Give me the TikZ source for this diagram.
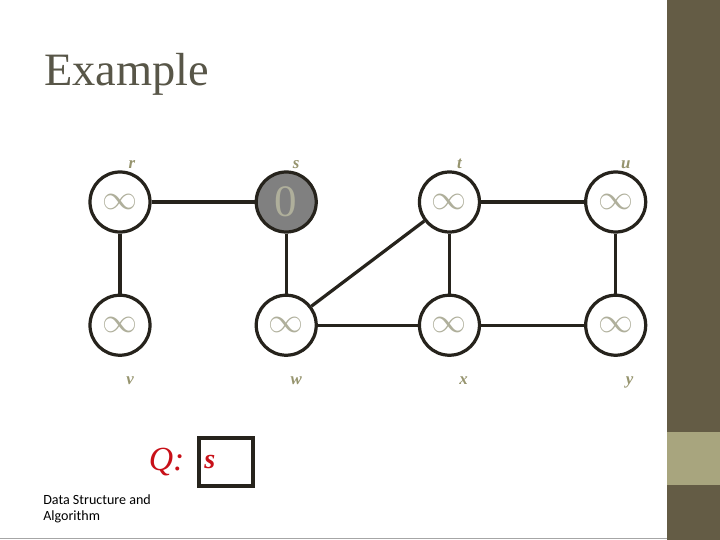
\documentclass[tikz,border=0pt]{standalone}
\usepackage{fontspec}
\setmainfont{Liberation Serif}
\newfontfamily\notefont{Carlito}
\usepackage{tikz}
\usetikzlibrary{positioning}
\definecolor{bandolive}{RGB}{100,92,69}
\definecolor{bandlight}{RGB}{168,165,126}
\definecolor{titlegray}{RGB}{88,86,72}
\definecolor{edgedark}{RGB}{38,35,28}
\definecolor{lblolive}{RGB}{150,148,110}
\definecolor{symgray}{RGB}{175,175,155}
\definecolor{qred}{RGB}{200,16,24}
\tikzset{
  vertex/.style={circle, minimum size=1.5cm, inner sep=0pt, draw=edgedark, fill=white, line width=2.3pt, text=symgray, font=\fontsize{27}{28}\selectfont},
  vertexS/.style={vertex, fill=black!50},
  lbl/.style={text=lblolive, font=\bfseries\itshape\fontsize{12}{13}\selectfont, inner sep=1pt},
  edge/.style={draw=edgedark, line width=2.3pt},
}
\begin{document}
\begin{tikzpicture}[node distance=2.55cm and 1.5cm]
\useasboundingbox (0,0) rectangle (18,13.5);
% slide background
\fill[white] (0,0) rectangle (18,13.5);
\fill[bandolive] (16.675,0) rectangle (18,13.5);
\fill[bandlight] (16.675,1.375) rectangle (18,2.7);
\draw[black!35, line width=0.8pt] (0,0.03) -- (16.675,0.03);
\node (title) [anchor=base west, text=titlegray, font=\fontsize{33}{36}\selectfont, inner sep=0pt] at (1.1,11.35) {Example};
% vertices
\node (r) [vertex, label={[lbl, xshift=0.3cm]above:r}] at (3.0,8.45) {$\infty$};
\node (s) [vertexS, right=2.575cm of r, label={[lbl, xshift=0.25cm]above:s}, font=\fontsize{32}{34}\selectfont] {0};
\node (t) [vertex, right=2.5cm of s, label={[lbl, xshift=0.25cm]above:t}] {$\infty$};
\node (u) [vertex, right=2.575cm of t, label={[lbl, xshift=0.25cm]above:u}] {$\infty$};
\node (v) [vertex, below=1.5cm of r, label={[lbl, xshift=0.25cm, yshift=-0.45cm]below:v}] {$\infty$};
\node (w) [vertex, below=1.5cm of s, label={[lbl, xshift=0.25cm, yshift=-0.45cm]below:w}] {$\infty$};
\node (x) [vertex, below=1.5cm of t, label={[lbl, xshift=0.35cm, yshift=-0.45cm]below:x}] {$\infty$};
\node (y) [vertex, below=1.5cm of u, label={[lbl, xshift=0.35cm, yshift=-0.45cm]below:y}] {$\infty$};
% edges
\draw[edge] (r) -- (s);
\draw[edge] (r) -- (v);
\draw[edge] (s) -- (w);
\draw[edge] (w) -- (t);
\draw[edge] (t) -- (u);
\draw[edge] (t) -- (x);
\draw[edge] (u) -- (y);
\draw[edge] (w) -- (x);
\draw[edge] (x) -- (y);
% queue
\node (queue) [draw=edgedark, line width=2.3pt, minimum width=1.35cm, minimum height=1.2cm, inner sep=0pt] at (5.65,1.95) {};
\node (qs) [anchor=west, text=qred, font=\bfseries\itshape\fontsize{20}{22}\selectfont] at ([xshift=0.05cm]queue.west) {s};
\node (qlabel) [left=0.2cm of queue, text=qred, font=\itshape\fontsize{24}{26}\selectfont] {Q:};
\node (note) [anchor=north west, align=left, font=\notefont\fontsize{10}{11.5}\selectfont, inner sep=0pt] at (1.075,1.15) {Data Structure and\\Algorithm};
\end{tikzpicture}
\end{document}
